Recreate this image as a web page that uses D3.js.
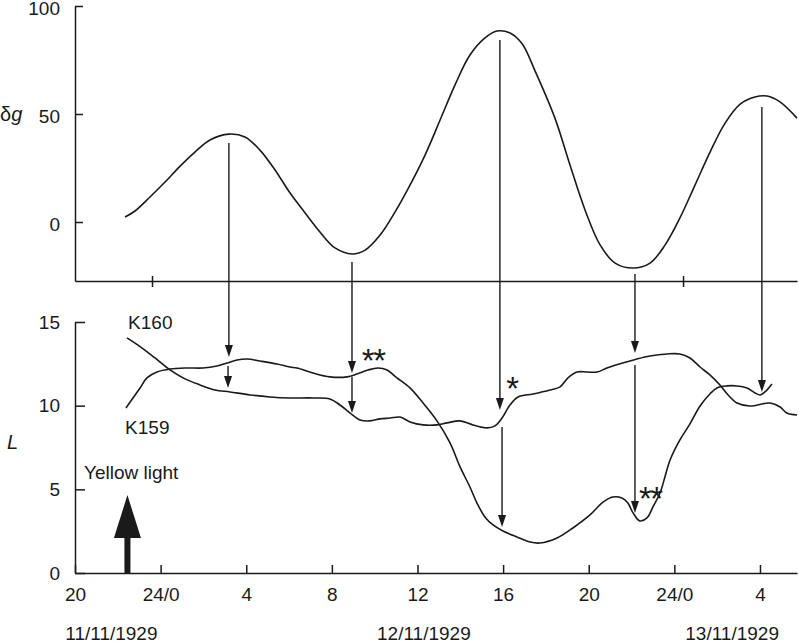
<html>
<head>
  <title>Gravity variation and lamp readings</title>
  <script src="https://d3js.org/d3.v7.min.js"></script>
  <style>
    body { margin: 0; background: #fff; }
    svg { display: block; }
    text { font-family: "Liberation Sans", Arial, sans-serif; fill: #1a1a1a; }
    .axis path, .axis line { stroke: #1a1a1a; stroke-width: 1.5; }
    .axis text { font-size: 19px; font-family: "Liberation Sans", Arial, sans-serif; fill: #1a1a1a; }
  </style>
</head>
<body>
  <svg id="root" width="799" height="643"></svg>
  <script>
    // hours counted from 20:00 on 11/11/1929
    var xTickHours = [0, 4, 8, 12, 16, 20, 24, 28, 32];
    var xTickLabels = ['20', '24/0', '4', '8', '12', '16', '20', '24/0', '4'];
    var dateLabels = ['11/11/1929', '12/11/1929', '13/11/1929'];
    var dateHours = [1.7, 16.3, 30.7];
    var topTickHours = [4, 28];
    var dgTicks = [0, 50, 100];
    var lTicks = [0, 5, 10, 15];

    // top panel: delta g
    var dgHours = [2.78, 3.23, 3.91, 4.59, 5.27, 5.94, 6.62, 7.48, 8.20, 8.88, 9.56, 10.24, 10.92, 11.59, 12.27, 13.04,
      13.63, 14.31, 14.98, 15.66, 16.34, 17.02, 17.69, 18.37, 19.05, 19.59, 20.18, 20.72, 21.31, 22.21, 22.89, 23.57,
      24.25, 24.93, 25.74, 26.51, 27.19, 27.86, 28.54, 29.22, 29.90, 30.58, 31.25, 31.80, 32.38, 33.15];
    var dgValues = [2.3, 5.1, 11.6, 18.5, 25.9, 32.4, 38.0, 40.7, 39.4, 33.3, 24.1, 13.4, 4.2, -4.6, -12.0, -14.8,
      -13.0, -6.0, 4.6, 17.1, 31.0, 47.2, 63.4, 77.3, 85.2, 88.4, 87.5, 82.6, 70.0, 48.1, 26.4, 5.6,
      -10.6, -19.0, -21.3, -19.0, -10.6, 1.9, 17.1, 32.4, 45.8, 54.6, 57.9, 58.3, 55.6, 48.1];

    // bottom panel: L
    var k160Hours = [2.43, 3.04, 3.74, 4.44, 5.14, 5.84, 6.54, 7.24, 8.18, 9.11, 10.05, 11.12, 11.91, 12.38, 12.85,
      13.31, 13.78, 14.25, 14.72, 15.18, 15.65, 16.26, 16.91, 17.38, 17.99, 18.59, 19.25, 19.62, 19.95, 20.32, 20.70,
      21.40, 22.19, 22.66, 23.03, 23.45, 23.92, 24.39, 24.85, 25.60, 26.25, 26.86, 27.66, 28.26, 28.73, 29.20, 29.66,
      30.13, 30.51, 30.93, 31.53, 32.47, 32.94, 33.26, 33.73];
    var k160Values = [14.05, 13.53, 12.85, 12.14, 11.60, 11.24, 10.94, 10.82, 10.64, 10.52, 10.46, 10.46, 10.40, 10.04, 9.56,
      9.15, 9.09, 9.21, 9.26, 9.32, 9.03, 8.85, 8.85, 8.97, 9.09, 8.85, 8.67, 8.79, 9.26, 10.04, 10.52,
      10.70, 10.94, 11.12, 11.66, 12.01, 12.01, 12.01, 12.25, 12.55, 12.79, 12.97, 13.09, 13.09, 12.85, 12.31, 11.84,
      11.24, 10.64, 10.16, 9.98, 10.16, 9.92, 9.56, 9.44];
    var k159Hours = [2.38, 2.71, 3.04, 3.36, 3.83, 4.44, 5.23, 5.98, 6.63, 7.10, 7.57, 8.04, 8.64, 9.44, 10.04, 10.37,
      11.12, 11.91, 12.71, 13.17, 13.69, 14.15, 14.58, 15.04, 15.65, 16.26, 16.91, 17.52, 17.99, 18.45, 18.78, 19.15,
      19.53, 19.99, 20.65, 21.26, 21.72, 22.52, 23.26, 24.06, 24.67, 25.13, 25.55, 25.83, 26.07, 26.39, 26.72, 27.00,
      27.33, 27.56, 27.80, 28.26, 28.73, 29.20, 29.66, 29.99, 30.46, 30.93, 31.39, 31.77, 32.00, 32.23, 32.56];
    var k159Values = [9.86, 10.46, 11.06, 11.66, 12.01, 12.19, 12.25, 12.25, 12.37, 12.55, 12.73, 12.79, 12.67, 12.49, 12.31, 12.25,
      11.95, 11.72, 11.72, 11.89, 12.13, 12.25, 12.13, 11.66, 11.06, 10.16, 9.09, 7.77, 6.34, 5.14, 4.18, 3.35,
      2.87, 2.51, 2.15, 1.85, 1.79, 2.09, 2.69, 3.47, 4.24, 4.54, 4.48, 4.18, 3.59, 3.11, 3.29, 3.95,
      4.78, 5.74, 6.75, 7.95, 8.91, 9.98, 10.70, 11.06, 11.18, 11.18, 11.06, 10.76, 10.64, 10.82, 11.30];

    // arrows from dg extremes down to the L curves
    var arrowHours = [7.19, 12.94, 19.85, 26.16, 32.09];
    var arrowFromDg = [36.6, -18.5, 84.3, -24.1, 53.2];
    var arrowToL = [12.91, 11.95, 9.74, 13.15, 10.82];
    var arrow2Hours = [7.15, 12.94, 19.95, 26.16];
    var arrow2FromL = [12.37, 11.72, 8.73, 12.43];
    var arrow2ToL = [11.06, 9.56, 2.75, 3.59];

    var starText = ['**', '*', '**'];
    var starHours = [13.4, 20.15, 26.35];
    var starL = [13.03, 11.36, 4.78];

    var yellowHour = 2.45;
    var yellowTipL = 4.66;

    var svg = d3.select('svg#root');
    var ink = '#1a1a1a';

    var x = d3.scaleLinear().domain([0, 33.73]).range([75, 797]);
    var xTop = d3.scaleLinear().domain([0.52, 33.15]).range([75, 797]);
    var yTop = d3.scaleLinear().domain([-27.3, 100]).range([281, 6]);
    var yBot = d3.scaleLinear().domain([0, 15]).range([573, 322]);

    // top panel axes
    var gTopX = svg.append('g')
      .attr('class', 'axis')
      .attr('transform', 'translate(0,' + yTop(-27.3) + ')')
      .call(d3.axisBottom(xTop).tickValues(topTickHours).tickSizeOuter(0).tickFormat(''));
    gTopX.selectAll('.tick line').attr('y1', -5).attr('y2', 6);

    var gTopY = svg.append('g')
      .attr('class', 'axis')
      .attr('transform', 'translate(' + x(0) + ',0)')
      .call(d3.axisLeft(yTop).tickValues(dgTicks).tickSizeInner(-8).tickSizeOuter(0).tickPadding(15));
    gTopY.selectAll('.tick text').attr('y', 2.5);

    // bottom panel axes
    svg.append('g')
      .attr('class', 'axis')
      .attr('transform', 'translate(0,' + yBot(0) + ')')
      .call(d3.axisBottom(x).tickValues(xTickHours).tickSizeInner(-8).tickSizeOuter(0).tickPadding(15)
        .tickFormat(function (d, i) { return xTickLabels[i]; }));

    svg.append('g')
      .attr('class', 'axis')
      .attr('transform', 'translate(' + x(0) + ',0)')
      .call(d3.axisLeft(yBot).tickValues(lTicks).tickSizeInner(-10).tickSizeOuter(0).tickPadding(15));

    svg.selectAll('.axis .domain').attr('stroke', ink);

    svg.selectAll('.date')
      .data(dateLabels)
      .enter()
      .append('text')
      .attr('class', 'date')
      .attr('x', function (d, i) { return x(dateHours[i]); })
      .attr('y', 640)
      .attr('text-anchor', 'middle')
      .attr('font-size', 19)
      .text(function (d) { return d; });

    // axis titles
    var dgTitle = svg.append('text')
      .attr('x', 0)
      .attr('y', yTop(50) + 7)
      .attr('font-size', 20);
    dgTitle.append('tspan').text('δ');
    dgTitle.append('tspan').attr('font-style', 'italic').text('g');

    svg.append('text')
      .attr('x', 7)
      .attr('y', yBot(7.8) + 7)
      .attr('font-size', 20)
      .attr('font-style', 'italic')
      .text('L');

    // curves
    var lineTop = d3.line()
      .x(function (d) { return xTop(d[0]); })
      .y(function (d) { return yTop(d[1]); })
      .curve(d3.curveCatmullRom.alpha(0.5));
    var lineBot = d3.line()
      .x(function (d) { return x(d[0]); })
      .y(function (d) { return yBot(d[1]); })
      .curve(d3.curveCatmullRom.alpha(0.5));

    svg.append('path')
      .datum(d3.zip(dgHours, dgValues))
      .attr('fill', 'none')
      .attr('stroke', ink)
      .attr('stroke-width', 1.6)
      .attr('d', lineTop);

    [d3.zip(k160Hours, k160Values), d3.zip(k159Hours, k159Values)].forEach(function (series) {
      svg.append('path')
        .datum(series)
        .attr('fill', 'none')
        .attr('stroke', ink)
        .attr('stroke-width', 1.6)
        .attr('d', lineBot);
    });

    // thin arrows
    function arrow(px, y1, y2) {
      var head = 12, half = 4;
      svg.append('line')
        .attr('x1', px).attr('x2', px)
        .attr('y1', y1).attr('y2', y2 - head + 1)
        .attr('stroke', ink)
        .attr('stroke-width', 1.4);
      svg.append('path')
        .attr('d', 'M' + (px - half) + ',' + (y2 - head) + 'L' + (px + half) + ',' + (y2 - head) + 'L' + px + ',' + y2 + 'Z')
        .attr('fill', ink);
    }
    arrowHours.forEach(function (h, i) {
      arrow(x(h), yTop(arrowFromDg[i]), yBot(arrowToL[i]));
    });
    arrow2Hours.forEach(function (h, i) {
      arrow(x(h), yBot(arrow2FromL[i]), yBot(arrow2ToL[i]));
    });

    // stars
    svg.selectAll('.star')
      .data(starText)
      .enter()
      .append('text')
      .attr('class', 'star')
      .attr('x', function (d, i) { return x(starHours[i]); })
      .attr('y', function (d, i) { return yBot(starL[i]) + 17; })
      .attr('font-size', 33)
      .attr('letter-spacing', -1.5)
      .text(function (d) { return d; });

    // series labels
    svg.append('text')
      .attr('x', x(2.48))
      .attr('y', yBot(15) + 7)
      .attr('font-size', 19)
      .text('K160');
    svg.append('text')
      .attr('x', x(2.34))
      .attr('y', yBot(8.3))
      .attr('font-size', 19)
      .text('K159');

    // yellow light marker
    svg.append('text')
      .attr('x', x(0.42))
      .attr('y', yBot(5.6))
      .attr('font-size', 19)
      .text('Yellow light');

    var yx = x(yellowHour);
    var tip = yBot(yellowTipL);
    var base = tip + 43;
    svg.append('rect')
      .attr('x', yx - 3)
      .attr('y', base - 2)
      .attr('width', 6)
      .attr('height', yBot(0) - base + 2)
      .attr('fill', ink);
    svg.append('path')
      .attr('d', 'M' + (yx - 13.5) + ',' + base + 'L' + (yx + 13.5) + ',' + base + 'L' + yx + ',' + tip + 'Z')
      .attr('fill', ink);
  </script>
</body>
</html>
